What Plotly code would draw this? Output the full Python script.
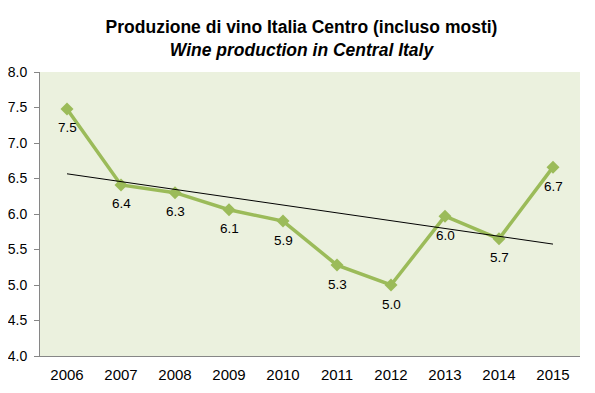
import numpy as np
import plotly.graph_objects as go

years = [2006, 2007, 2008, 2009, 2010, 2011, 2012, 2013, 2014, 2015]
production = [7.48, 6.41, 6.30, 6.06, 5.90, 5.28, 5.00, 5.97, 5.65, 6.66]
labels = ["7.5", "6.4", "6.3", "6.1", "5.9", "5.3", "5.0", "6.0", "5.7", "6.7"]
y_ticks = [4.0, 4.5, 5.0, 5.5, 6.0, 6.5, 7.0, 7.5, 8.0]

slope, intercept = np.polyfit(years, production, 1)
trend = [slope * y + intercept for y in years]

fig = go.Figure()
fig.add_trace(go.Scatter(
    x=years, y=production, mode="lines+markers",
    line=dict(color="#9BBB59", width=3.5),
    marker=dict(symbol="diamond", size=10, color="#9BBB59"),
    showlegend=False,
))
fig.add_trace(go.Scatter(
    x=[years[0], years[-1]], y=[trend[0], trend[-1]], mode="lines",
    line=dict(color="#000000", width=1),
    showlegend=False,
))
for x, y, t in zip(years, production, labels):
    fig.add_annotation(
        x=x, y=y, text=t, showarrow=False, yshift=-19,
        font=dict(family="Liberation Sans, Arial", size=13.5, color="#000000"),
    )

fig.update_layout(
    width=587, height=385,
    margin=dict(l=32, r=15, t=64, b=37, autoexpand=False),
    paper_bgcolor="#FFFFFF",
    plot_bgcolor="#EBF1DE",
    title=dict(
        text="<b>Produzione di vino Italia Centro (incluso mosti)</b><br><b><i>Wine production in Central Italy</i></b>",
        x=0.5, xanchor="center", y=0.935, yanchor="top",
        font=dict(family="Liberation Sans, Arial", size=17.5, color="#000000"),
    ),
    xaxis=dict(
        range=[2005.5, 2015.5], tickmode="array", tickvals=years,
        ticktext=[str(y) for y in years], automargin=False,
        showgrid=False, zeroline=False,
        showline=True, linecolor="#868686", linewidth=1,
        ticks="", ticklabelstandoff=5,
        tickfont=dict(family="Liberation Sans, Arial", size=15, color="#000000"),
    ),
    yaxis=dict(
        range=[4.0, 8.0], tickmode="array", tickvals=y_ticks,
        ticktext=[f"{v:.1f}" for v in y_ticks], automargin=False,
        showgrid=False, zeroline=False,
        showline=True, linecolor="#868686", linewidth=1,
        ticks="outside", ticklen=5, tickcolor="#868686", ticklabelstandoff=4,
        tickfont=dict(family="Liberation Sans, Arial", size=14, color="#000000"),
    ),
)

fig.write_html("out.html")
